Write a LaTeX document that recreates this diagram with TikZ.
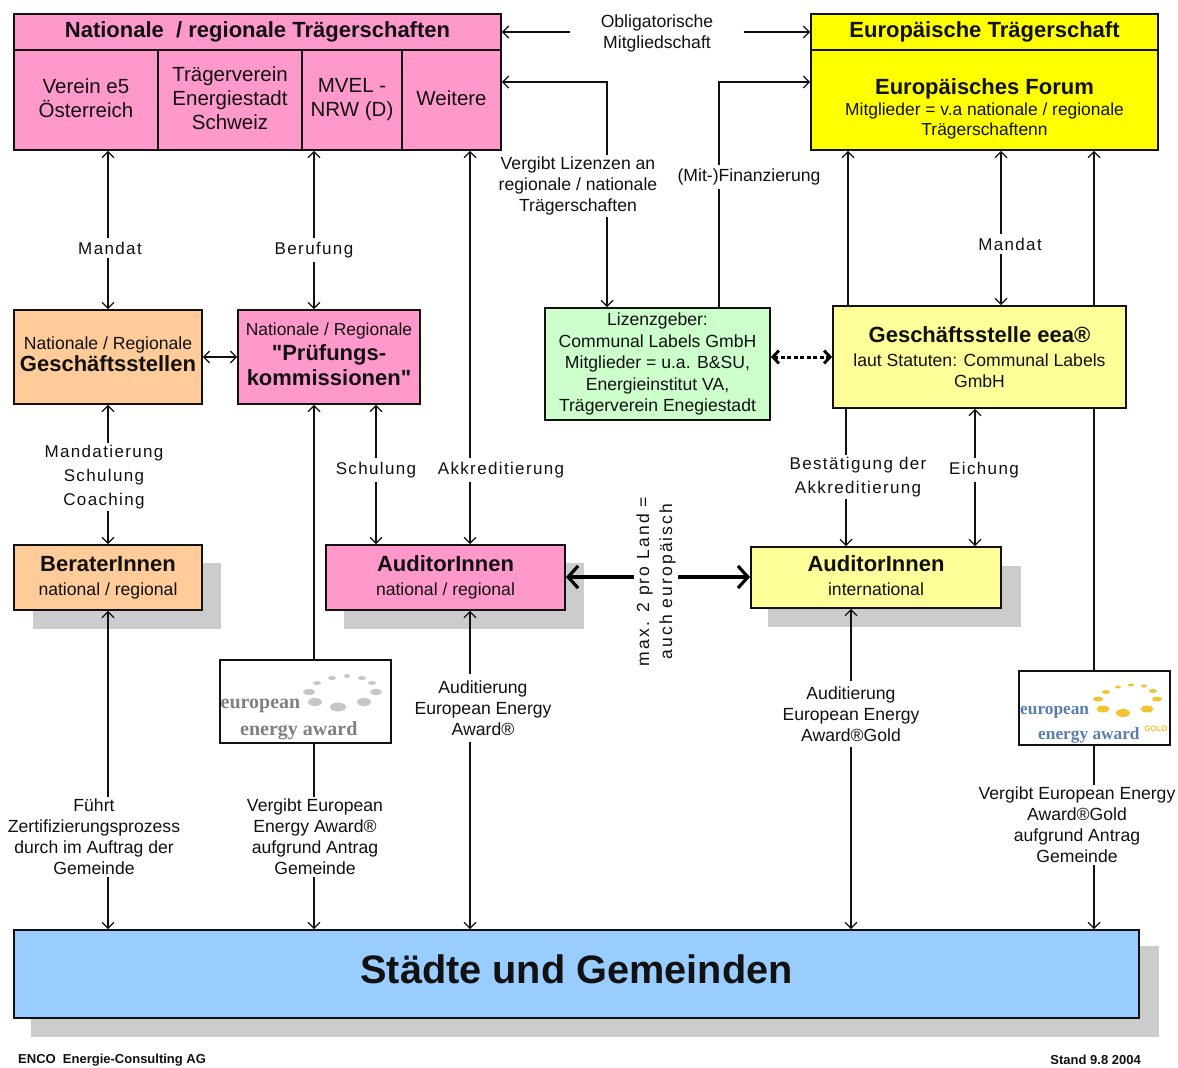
\documentclass[tikz,border=0pt]{standalone}
\usepackage{fontspec}
\setmainfont{Liberation Sans}
\newfontfamily\logofont{Liberation Serif}
\newfontfamily\quotefont{Liberation Sans}
\usetikzlibrary{arrows.meta}
\definecolor{cpink}{HTML}{FF99CC}
\definecolor{cyel}{HTML}{FFFF00}
\definecolor{clyel}{HTML}{FFFF99}
\definecolor{corg}{HTML}{FFCC99}
\definecolor{cgrn}{HTML}{CCFFCC}
\definecolor{cblue}{HTML}{99CCFF}
\definecolor{cshad}{HTML}{CCCCCC}
\definecolor{cink}{HTML}{111111}
\definecolor{cgold}{HTML}{F2C530}
\definecolor{clogob}{HTML}{5A7DB0}
\newcommand{\fs}[2]{\fontsize{#1}{#2}\selectfont}
\newcommand{\hd}{\bfseries\fs{22}{24}}
\newcommand{\upfour}{\rule[-4pt]{0pt}{4pt}}
\tikzset{
  box/.style={draw=cink,line width=1.8pt,inner sep=0pt,align=center,text=cink,font=\fs{17.6}{24}},
  cell/.style={box,fill=cpink,minimum height=100pt,font=\fs{20.5}{24}},
  shad/.style={fill=cshad,draw=none},
  lbl/.style={inner sep=3pt,align=center,text=cink,font=\fs{17.6}{21}},
  lblw/.style={lbl,inner sep=4pt,font=\fs{17}{24}\addfontfeature{LetterSpace=8}},
  conn/.style={draw=cink,line width=1.2pt,>={Straight Barb[length=6pt,width=12pt]}},
  thickconn/.style={draw=black,line width=3.2pt,>={Straight Barb[length=10pt,width=22pt]}},
  dotconn/.style={draw=black,line width=3pt,dash pattern=on 4pt off 2.5pt,>={Straight Barb[length=6pt,width=13pt]}},
  foot/.style={inner sep=0pt,font=\fs{13}{15}\bfseries,text=cink},
  logotxt/.style={inner sep=0pt,anchor=west,font=\logofont\bfseries\fs{20}{22}},
  logotxtb/.style={logotxt,text=clogob,font=\logofont\bfseries\fs{17.3}{20}}
}
\begin{document}
\begin{tikzpicture}[x=1pt,y=-1pt]
\useasboundingbox (0,0) rectangle (1178,1068);
\fill[white] (0,0) rectangle (1178,1068);
\foreach \x in {108,314,376,470,607,719,846,848,851,975,1001,1094}{\coordinate (x\x) at (\x,0);}
\coordinate (y82) at (0,82);
\coordinate (y577) at (0,577);
% shadows
\fill[shad] (33,563) rectangle (221,629);
\fill[shad] (344,563) rectangle (584,629);
\fill[shad] (768,566) rectangle (1021,627);
\fill[shad] (31,946) rectangle (1159,1037);
% boxes
\node[box,fill=cpink,minimum width=487pt,minimum height=36pt,font=\hd] (hl) at (257.5,32) {Nationale \ / regionale Trägerschaften};
\node[cell,minimum width=144pt] (v1) at (86,100) {Verein e5\\Österreich\upfour};
\node[cell,minimum width=144pt] (v2) at (230,100) {Trägerverein\\Energiestadt\\Schweiz\upfour};
\node[cell,minimum width=100pt] (v3) at (352,100) {MVEL -\\NRW (D)\upfour};
\node[cell,minimum width=99pt] (v4) at (451.5,100) {Weitere\upfour};
\node[box,fill=cyel,minimum width=347pt,minimum height=36pt,font=\hd] (hr) at (984.5,32) {Europäische Trägerschaft};
\node[box,fill=cyel,minimum width=347pt,minimum height=100pt,font=\fs{17.4}{20}] (fr) at (984.5,100) {\hd\rule{0pt}{34pt}Europäisches Forum\\[1pt]Mitglieder = v.a nationale / regionale\\Trägerschaftenn};
\node[box,fill=corg,minimum width=188pt,minimum height=94pt] (ngs) at (108,357) {Nationale / Regionale\\[-2pt]\hd Geschäftsstellen\rule[-5pt]{0pt}{5pt}};
\node[box,fill=cpink,minimum width=182pt,minimum height=94pt,font=\fs{17.4}{25}] (pk) at (329,357) {Nationale / Regionale\\\quotefont\hd"Prüfungs-\\\quotefont\hd kommissionen"\rule[-5pt]{0pt}{5pt}};
\node[box,fill=cgrn,minimum width=225pt,minimum height=112pt,font=\fs{17.6}{21.5}] (liz) at (657.5,364) {Lizenzgeber:\\Communal Labels GmbH\\Mitglieder = u.a. B\&SU,\\Energieinstitut VA,\\Trägerverein Enegiestadt};
\node[box,fill=clyel,minimum width=293pt,minimum height=102pt,font=\fs{17.6}{21}] (eea) at (979.5,357) {\hd Geschäftsstelle eea®\\[3pt]laut Statuten: Communal Labels\\GmbH};
\node[box,fill=corg,minimum width=188pt,minimum height=65pt] (ber) at (108,577.5) {\hd BeraterInnen\\national / regional};
\node[box,fill=cpink,minimum width=239pt,minimum height=65pt] (aun) at (445.5,577.5) {\hd AuditorInnen\\national / regional};
\node[box,fill=clyel,minimum width=250pt,minimum height=61pt] (aui) at (876,577.5) {\hd AuditorInnen\\international\rule[-3pt]{0pt}{3pt}};
\node[box,fill=cblue,minimum width=1125pt,minimum height=88pt,font=\bfseries\fs{39.7}{44}] (st) at (576.5,974) {\raisebox{9pt}{Städte und Gemeinden}};
\node[box,draw=cink,fill=white,line width=1.4pt,minimum width=171pt,minimum height=83pt] (lg1) at (305.5,701.5) {};
\node[box,draw=cink,fill=white,line width=1.4pt,minimum width=151pt,minimum height=74pt] (lg2) at (1094.5,708) {};
% logo 1
\foreach \a/\b/\c/\d in {338/707/8/4.5,315/702/7/4,364/702/7/4,309/692/6/3,376/692/6/3,317/683/4/2,372/683/4/2,332/678/4/2,362/678/4/2,347/676/3/2}{\fill[gray!45] (\a,\b) ellipse [x radius=\c pt,y radius=\d pt];}
\node[logotxt,text=gray] (lt1) at (220.5,706) {european};
\node[logotxt,text=gray] (lt2) at (240,731) {energy award};
% logo 2
\foreach \a/\b/\c/\d in {1123/713/7/4,1103/709/6.5/3.5,1147/709/6.5/3.5,1098/699/5/2.5,1157/699/5/2.5,1106/692/4/2,1153/691/4/2,1118/687/3/1.5,1144/686/3/1.5,1131/685/3/1.5}{\fill[cgold] (\a,\b) ellipse [x radius=\c pt,y radius=\d pt];}
\node[logotxtb] (lt3) at (1020,712) {european};
\node[logotxtb] (lt4) at (1038,735) {energy award};
\node[inner sep=0pt,text=cgold,font=\bfseries\fs{8}{9}] (lt5) at (1156,729) {GOLD};
% labels
\node[lbl,inner sep=0pt,minimum width=173pt] (lO) at (657,33) {Obligatorische\\Mitgliedschaft};
\node[lblw] (lM1) at (110,248) {Mandat};
\node[lblw] (lB) at (314,250) {Berufung};
\node[lbl,inner sep=2pt] (lV) at (578,186) {Vergibt Lizenzen an\\regionale / nationale\\Trägerschaften};
\node[lbl,inner sep=4pt] (lF) at (749,177) {(Mit-)Finanzierung};
\node[lblw] (lM2) at (1010,244) {Mandat};
\node[lblw,inner sep=2pt] (lMS) at (104,477) {Mandatierung\\Schulung\\Coaching};
\node[lblw] (lS) at (376,470) {Schulung};
\node[lblw] (lA) at (501,470) {Akkreditierung};
\node[lblw,inner sep=2pt] (lBA) at (858,477) {Bestätigung der\\Akkreditierung};
\node[lblw] (lE) at (984,470) {Eichung};
\node[lblw,inner sep=2pt,font=\fs{17.5}{23}\addfontfeature{LetterSpace=12},rotate=90] (lMax) at (656,581.5) {max. 2 pro Land =\\auch europäisch};
\node[lbl,inner sep=6pt] (lAu1) at (483,708) {Auditierung\\European Energy\\Award®};
\node[lbl,inner sep=5pt] (lAu2) at (851,714) {Auditierung\\European Energy\\Award®Gold};
\node[lbl,inner sep=2pt] (lFu) at (94,837) {Führt\\Zertifizierungsprozess\\durch im Auftrag der\\Gemeinde};
\node[lbl,inner sep=2pt] (lVg1) at (315,837) {Vergibt European\\Energy Award®\\aufgrund Antrag\\Gemeinde};
\node[lbl,inner sep=2pt] (lVg2) at (1077,825) {Vergibt European Energy\\Award®Gold\\aufgrund Antrag\\Gemeinde};
% connectors
\draw[conn,<-] (hl.east) -- (hl.east -| lO.west);
\draw[conn,->] (hr.west -| lO.east) -- (hr.west);
\draw[conn,<-] (v1.south -| x108) -- (lM1.north -| x108);
\draw[conn,->] (lM1.south -| x108) -- (ngs.north -| x108);
\draw[conn,<-] (v2.south -| x314) -- (lB.north -| x314);
\draw[conn,->] (lB.south -| x314) -- (pk.north -| x314);
\draw[conn,<-] (v4.south -| x470) -- (lA.north -| x470);
\draw[conn,->] (lA.south -| x470) -- (aun.north -| x470);
\draw[conn,<-] (v4.east |- y82) -| (lV.north -| x607);
\draw[conn,->] (lV.south -| x607) -- (liz.north -| x607);
\draw[conn] (liz.north -| x719) -- (lF.south -| x719);
\draw[conn,->] (lF.north -| x719) |- (fr.west |- y82);
\draw[conn,->] (eea.north -| x848) -- (fr.south -| x848);
\draw[conn,<-] (fr.south -| x1001) -- (lM2.north -| x1001);
\draw[conn,->] (lM2.south -| x1001) -- (eea.north -| x1001);
\draw[conn] (lg2.north -| x1094) -- (eea.south -| x1094);
\draw[conn,->] (eea.north -| x1094) -- (fr.south -| x1094);
\draw[conn] (lg2.south -| x1094) -- (lVg2.north -| x1094);
\draw[conn,->] (lVg2.south -| x1094) -- (st.north -| x1094);
\draw[conn,<->] (ngs.east) -- (pk.west);
\draw[dotconn,<->] (liz.east |- eea.west) -- (eea.west);
\draw[conn,<-] (ngs.south -| x108) -- (lMS.north -| x108);
\draw[conn,->] (lMS.south -| x108) -- (ber.north -| x108);
\draw[conn,<-] (pk.south -| x314) -- (lg1.north -| x314);
\draw[conn] (lg1.south -| x314) -- (lVg1.north -| x314);
\draw[conn,->] (lVg1.south -| x314) -- (st.north -| x314);
\draw[conn,<-] (pk.south -| x376) -- (lS.north -| x376);
\draw[conn,->] (lS.south -| x376) -- (aun.north -| x376);
\draw[conn,<-] (ber.south -| x108) -- (lFu.north -| x108);
\draw[conn,->] (lFu.south -| x108) -- (st.north -| x108);
\draw[conn,<-] (aun.south -| x470) -- (lAu1.north -| x470);
\draw[conn,->] (lAu1.south -| x470) -- (st.north -| x470);
\draw[conn,<-] (aui.south -| x851) -- (lAu2.north -| x851);
\draw[conn,->] (lAu2.south -| x851) -- (st.north -| x851);
\draw[conn] (eea.south -| x846) -- (lBA.north -| x846);
\draw[conn,->] (lBA.south -| x846) -- (aui.north -| x846);
\draw[conn,<-] (eea.south -| x975) -- (lE.north -| x975);
\draw[conn,->] (lE.south -| x975) -- (aui.north -| x975);
\draw[thickconn,<-] (aun.east |- y577) -- (lMax.north |- y577);
\draw[thickconn,->] (lMax.south |- y577) -- (aui.west |- y577);
% footer
\node[foot,anchor=west] (f1) at (18,1060) {ENCO \ Energie-Consulting AG};
\node[foot,anchor=east] (f2) at (1141,1060) {Stand 9.8 2004};
\end{tikzpicture}
\end{document}
